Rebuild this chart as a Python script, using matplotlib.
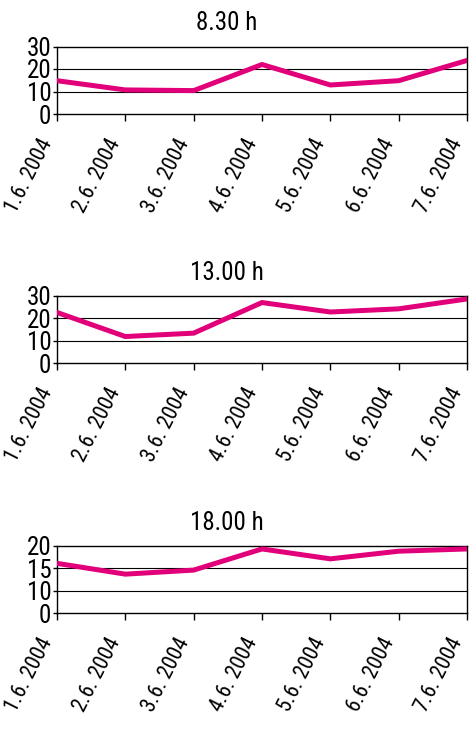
import matplotlib
matplotlib.use("Agg")
import matplotlib.pyplot as plt
from matplotlib.transforms import ScaledTranslation

plt.rcParams["font.family"] = ["Roboto Condensed", "Liberation Sans", "DejaVu Sans"]

dates = ["1.6. 2004", "2.6. 2004", "3.6. 2004", "4.6. 2004",
         "5.6. 2004", "6.6. 2004", "7.6. 2004"]

titles = ["8.30 h", "13.00 h", "18.00 h"]
vals_0830 = [14.8, 10.7, 10.4, 22.0, 12.9, 14.8, 23.8]
vals_1300 = [22.6, 11.9, 13.4, 27.0, 22.8, 24.2, 28.6]
vals_1800 = [16.1, 13.7, 14.6, 19.3, 17.1, 18.8, 19.3]

yticks_a = [0, 10, 20, 30]
ylabels_a = ["0", "10", "20", "30"]
# third panel: axis starts at 5, bottom tick labelled "0" as in the original
yticks_c = [5, 10, 15, 20]
ylabels_c = ["0", "10", "15", "20"]

LINE = "#E2007A"
FS = 18

fig = plt.figure(figsize=(4.7, 7.34), dpi=100)

panels = [
    (vals_0830, yticks_a, ylabels_a, 1 - 114 / 734, 22.5),
    (vals_1300, yticks_a, ylabels_a, 1 - 363.3 / 734, 273),
    (vals_1800, yticks_c, ylabels_c, 1 - 613.3 / 734, 523.5),
]

shift = ScaledTranslation(4 / 100, 0, fig.dpi_scale_trans)

for (vals, yt, yl, bottom, title_y), title in zip(panels, titles):
    ax = fig.add_axes([57 / 470, bottom, 410 / 470, 67.5 / 734])
    x = range(len(dates))
    ax.plot(x, vals, color=LINE, lw=3.6, solid_joinstyle="miter", zorder=3)
    ax.set_xlim(0, len(dates) - 1)
    ax.set_ylim(yt[0], yt[-1])
    ax.set_yticks(yt)
    ax.set_yticklabels(yl, fontsize=FS)
    for y in yt[1:-1]:
        ax.axhline(y, color="black", lw=0.8, zorder=1)
    ax.set_xticks(list(x))
    ax.set_xticklabels(dates, fontsize=15.5, rotation=63, ha="right",
                       va="bottom", rotation_mode="anchor")
    for lab in ax.get_xticklabels():
        lab.set_transform(lab.get_transform() + shift)
    ax.tick_params(axis="x", direction="out", length=5, width=1, pad=17)
    ax.tick_params(axis="y", direction="out", length=3, width=1, pad=1)
    for s in ax.spines.values():
        s.set_linewidth(1)
    fig.text(227 / 470, 1 - title_y / 734, title, ha="center", va="center",
             fontsize=FS)

fig.savefig("out.png", dpi=100)
